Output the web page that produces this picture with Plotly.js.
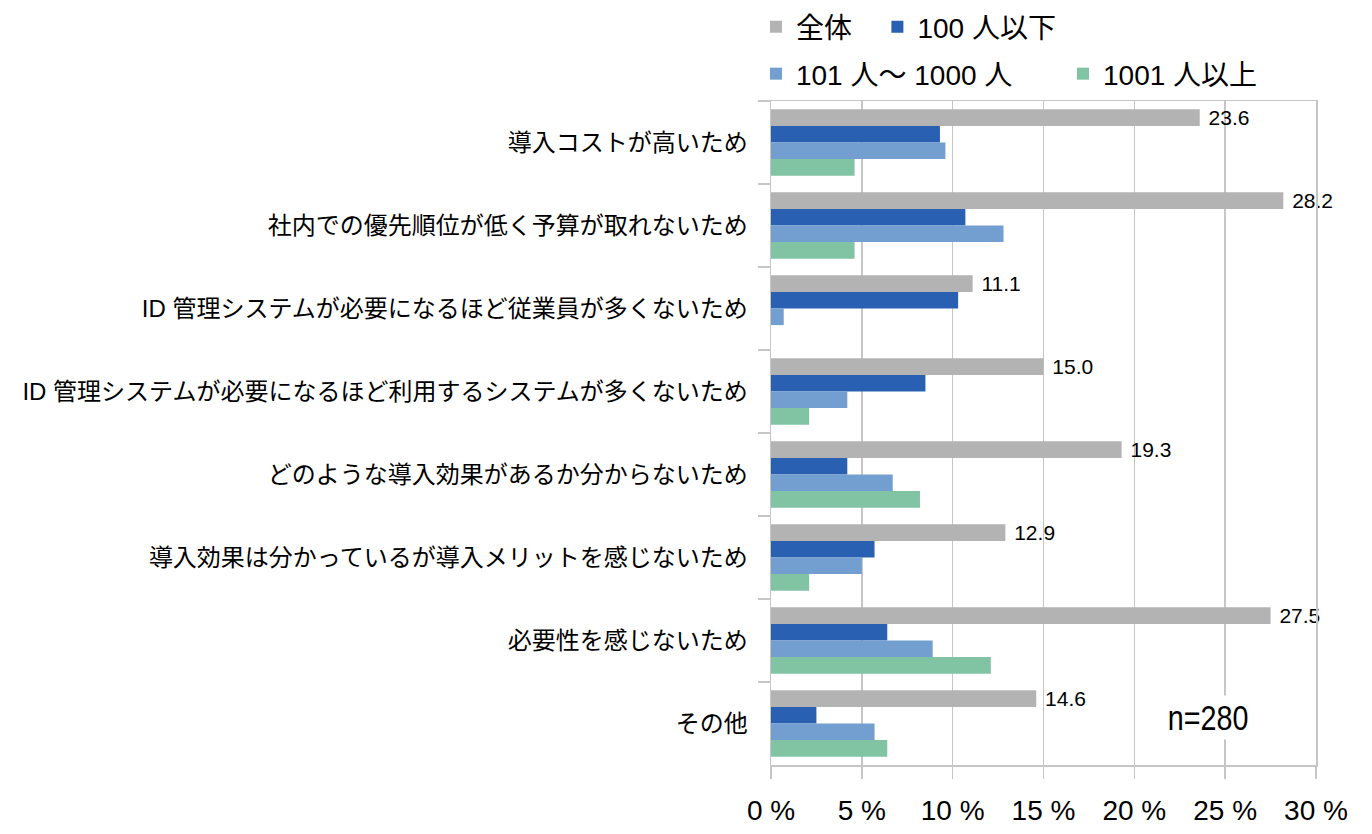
<!DOCTYPE html>
<html>
<head>
<meta charset="utf-8">
<script src="https://cdn.plot.ly/plotly-3.0.1.min.js"></script>
<style>html,body{margin:0;padding:0;background:#fff;}#chart{width:1372px;height:834px;}</style>
</head>
<body>
<div id="chart"></div>
<script>
const categories = [
  "導入コストが高いため",
  "社内での優先順位が低く予算が取れないため",
  "ID 管理システムが必要になるほど従業員が多くないため",
  "ID 管理システムが必要になるほど利用するシステムが多くないため",
  "どのような導入効果があるか分からないため",
  "導入効果は分かっているが導入メリットを感じないため",
  "必要性を感じないため",
  "その他"
];
const seriesNames = ["全体", "100 人以下", "101 人〜 1000 人", "1001 人以上"];
const totalAll   = [23.6, 28.2, 11.1, 15.0, 19.3, 12.9, 27.5, 14.6];
const upTo100    = [9.3, 10.7, 10.3, 8.5, 4.2, 5.7, 6.4, 2.5];
const from101    = [9.6, 12.8, 0.7, 4.2, 6.7, 5.0, 8.9, 5.7];
const over1001   = [4.6, 4.6, 0.0, 2.1, 8.2, 2.1, 12.1, 6.4];
const xTickVals  = [0, 5, 10, 15, 20, 25, 30];
const xTickText  = ["0 %", "5 %", "10 %", "15 %", "20 %", "25 %", "30 %"];
const noteText   = "n=280";

const colors = ["#b3b3b3", "#2a60b1", "#729fcf", "#81c4a4"];
const FONT = "Liberation Sans, Noto Sans CJK JP, sans-serif";
const allSeries = [totalAll, upTo100, from101, over1001];
const legendIds = ["legend", "legend2", "legend3", "legend4"];
// legend placement (container fractions)
const legendX = [0.551, 0.6395, 0.551, 0.7748];
const legendY = [0.9676, 0.9676, 0.9113, 0.9113];

const traces = allSeries.map((vals, i) => {
  const t = {
    type: "bar",
    orientation: "h",
    name: seriesNames[i],
    x: vals,
    y: categories,
    marker: {color: colors[i], line: {width: 0}},
    legend: legendIds[i],
    hoverinfo: "none"
  };
  if (i === 0) {
    t.text = vals.map(v => "\u00a0" + v.toFixed(1));
    t.textposition = "outside";
    t.textfont = {family: FONT, size: 21, color: "#000"};
    t.constraintext = "none";
    t.cliponaxis = false;
  }
  return t;
});

const layout = {
  width: 1372,
  height: 834,
  margin: {l: 771, r: 56, t: 101, b: 69, pad: 0},
  paper_bgcolor: "#fff",
  plot_bgcolor: "#fff",
  font: {family: FONT, color: "#000"},
  barmode: "group",
  bargap: 0.2,
  bargroupgap: 0,
  showlegend: true,
  xaxis: {
    range: [0, 30],
    tickvals: xTickVals,
    ticktext: xTickText,
    tickfont: {size: 28, family: FONT, color: "#000"},
    showgrid: true,
    gridcolor: "#c6c6c6",
    gridwidth: 1.5,
    zeroline: false,
    showline: true,
    linecolor: "#c6c6c6",
    linewidth: 1.5,
    mirror: true,
    ticks: "outside",
    ticklen: 12,
    tickwidth: 1.5,
    tickcolor: "#c6c6c6",
    ticklabelstandoff: 8,
    fixedrange: true
  },
  yaxis: {
    type: "category",
    autorange: "reversed",
    tickfont: {size: 24, family: FONT, color: "#000"},
    showgrid: false,
    zeroline: false,
    showline: true,
    linecolor: "#c6c6c6",
    linewidth: 1.5,
    mirror: true,
    ticks: "outside",
    tickson: "boundaries",
    ticklen: 12,
    tickwidth: 1.5,
    tickcolor: "#c6c6c6",
    ticklabelstandoff: 17,
    fixedrange: true
  },
  annotations: [{
    text: noteText,
    xref: "paper", yref: "paper",
    x: 0.802, y: 0.0708,
    xanchor: "center", yanchor: "middle",
    showarrow: false,
    bgcolor: "#fff",
    borderpad: 2,
    font: {size: 35, family: "Liberation Sans, sans-serif", color: "#000"}
  }]
};

legendIds.forEach((id, i) => {
  layout[id] = {
    orientation: "h",
    xref: "container", yref: "container",
    x: legendX[i], xanchor: "left",
    y: legendY[i], yanchor: "middle",
    font: {size: 28, family: FONT, color: "#000"},
    bgcolor: "rgba(0,0,0,0)",
    borderwidth: 0
  };
});

Plotly.newPlot("chart", traces, layout, {displayModeBar: false, staticPlot: true}).then(gd => {
  // narrow the "n=280" note horizontally to mimic a condensed typeface
  const txt = gd.querySelector(".annotation-text");
  if (txt) {
    const bb = txt.getBBox();
    const cx = bb.x + bb.width / 2;
    txt.setAttribute("transform", `translate(${cx},0) scale(0.82,1) translate(${-cx},0)`);
  }
});
</script>
</body>
</html>
